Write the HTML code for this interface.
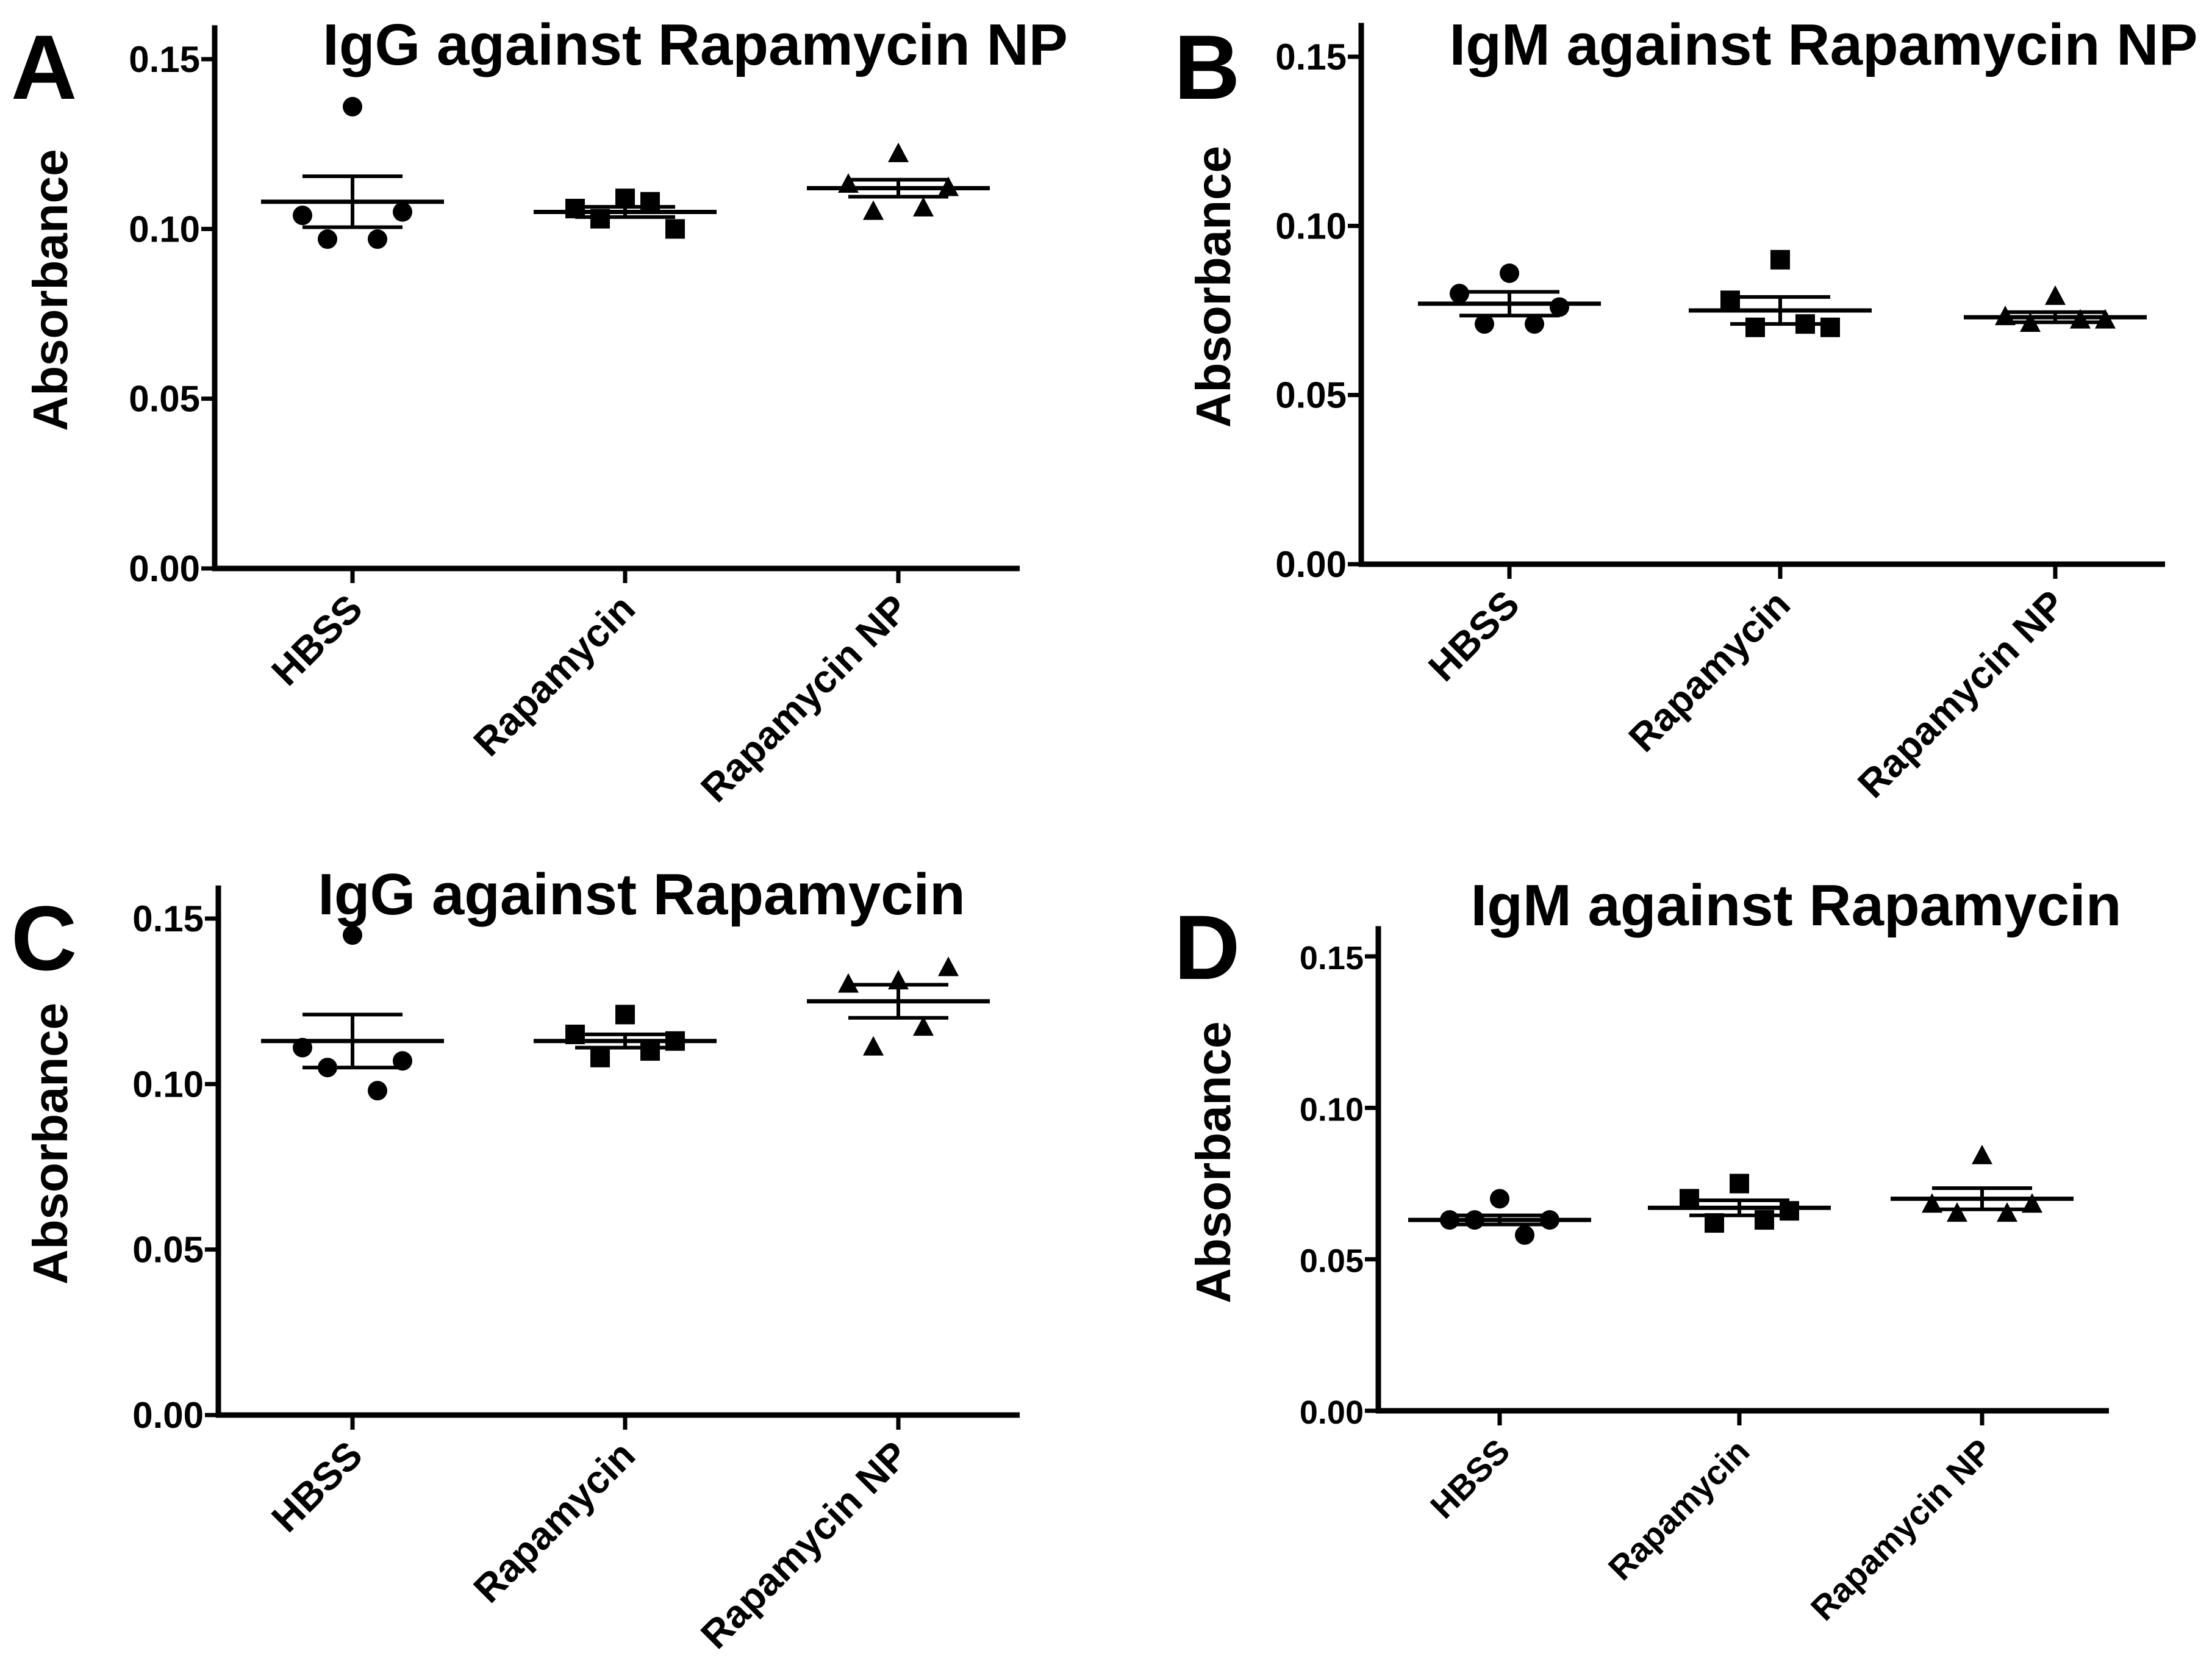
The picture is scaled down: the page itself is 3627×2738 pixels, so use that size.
<!DOCTYPE html>
<html><head><meta charset="utf-8"><style>
html,body{margin:0;padding:0;background:#fff;}
svg{display:block;font-family:"Liberation Sans",Arial,sans-serif;}
</style></head><body>
<svg id="fig" width="3627" height="2738" viewBox="0 0 3627 2738" xmlns="http://www.w3.org/2000/svg"></svg>
<script>
const categories = ["HBSS","Rapamycin","Rapamycin NP"];
const yTicks = [0.00,0.05,0.10,0.15];
const yTickLabels = ["0.00","0.05","0.10","0.15"];
// panel A
const aHBSS = [0.136,0.104,0.105,0.097,0.097];
const aRapa = [0.109,0.106,0.100,0.103,0.108];
const aNP = [0.122,0.113,0.112,0.105,0.106];
const aMeans = [0.108,0.105,0.112];
const aSems = [0.0075,0.0015,0.0025];
// panel B
const bHBSS = [0.086,0.080,0.076,0.071,0.071];
const bRapa = [0.090,0.078,0.070,0.070,0.071];
const bNP = [0.079,0.073,0.072,0.071,0.072];
const bMeans = [0.077,0.075,0.073];
const bSems = [0.0035,0.004,0.0015];
// panel C
const cHBSS = [0.145,0.111,0.107,0.105,0.098];
const cRapa = [0.121,0.115,0.113,0.108,0.110];
const cNP = [0.131,0.130,0.135,0.111,0.117];
const cMeans = [0.113,0.113,0.125];
const cSems = [0.008,0.002,0.005];
// panel D
const dHBSS = [0.070,0.063,0.063,0.063,0.058];
const dRapa = [0.075,0.070,0.066,0.062,0.063];
const dNP = [0.084,0.068,0.068,0.065,0.065];
const dMeans = [0.063,0.067,0.070];
const dSems = [0.0015,0.0025,0.0035];

const svg = document.getElementById('fig');
const NS = 'http://www.w3.org/2000/svg';
function mk(tag, attrs, parent){const e=document.createElementNS(NS,tag);for(const k in attrs)e.setAttribute(k,attrs[k]);(parent||svg).appendChild(e);return e;}

const panels = [
 {id:'a',letter:'A',title:'IgG against Rapamycin NP',ax:352,y0:932,y15:97,xEnd:1672,cats:[578,1025,1473],tx:1140,ty:106,lx:18,ly:162,series:[aHBSS,aRapa,aNP],means:aMeans,sems:aSems,fs:60,xfs:64},
 {id:'b',letter:'B',title:'IgM against Rapamycin NP',ax:2232,y0:925,y15:93,xEnd:3550,cats:[2475,2919,3370],tx:2990,ty:106,lx:1925,ly:162,series:[bHBSS,bRapa,bNP],means:bMeans,sems:bSems,fs:60,xfs:64},
 {id:'c',letter:'C',title:'IgG against Rapamycin',ax:358,y0:2320,y15:1506,xEnd:1672,cats:[578,1025,1473],tx:1052,ty:1499,lx:18,ly:1590,series:[cHBSS,cRapa,cNP],means:cMeans,sems:cSems,fs:60,xfs:64},
 {id:'d',letter:'D',title:'IgM against Rapamycin',ax:2260,y0:2313,y15:1568,xEnd:3458,cats:[2459,2852,3250],tx:2945,ty:1517,lx:1925,ly:1605,series:[dHBSS,dRapa,dNP],means:dMeans,sems:dSems,fs:54,xfs:56}
];
const jitter=[0,-1,1,-0.5,0.5];

panels.forEach(p=>{
  const g=mk('g',{});
  
  
  const y=v=>p.y0-(v/0.15)*(p.y0-p.y15);
  const top=y(0.16);
  const L=mk('text',{x:p.lx,y:p.ly,'font-size':150,'font-weight':'bold'},g);L.textContent=p.letter;
  
  
  const T=mk('text',{x:p.tx,y:p.ty,'font-size':96,'font-weight':'bold','text-anchor':'middle'},g);T.textContent=p.title;
  
  
  const ya=mk('line',{x1:p.ax,y1:top,x2:p.ax,y2:p.y0+4,stroke:'#000','stroke-width':9},g);
  
  
  const xa=mk('line',{x1:p.ax-4,y1:p.y0,x2:p.xEnd,y2:p.y0,stroke:'#000','stroke-width':9},g);
  
  
  yTicks.forEach((t,i)=>{
    mk('line',{x1:p.ax-22,y1:y(t),x2:p.ax,y2:y(t),stroke:'#000','stroke-width':7},g);
    const tl=mk('text',{x:p.ax-24,y:y(t)+21,'font-size':p.fs,'font-weight':'bold','text-anchor':'end'},g);
    tl.textContent=yTickLabels[i];
    
    
  });
  const yt=mk('text',{x:0,y:0,'font-size':80,'font-weight':'bold','text-anchor':'middle',transform:`translate(${p.lx+92},${y(0.082)}) rotate(-90)`},g);
  yt.textContent='Absorbance';
  
  
  categories.forEach((c,ci)=>{
    const cx=p.cats[ci];
    mk('line',{x1:cx,y1:p.y0,x2:cx,y2:p.y0+24,stroke:'#000','stroke-width':7},g);
    const xl=mk('text',{x:0,y:0,'font-size':p.xfs,'font-weight':'bold','text-anchor':'end',transform:`translate(${cx+20},${p.y0+70}) rotate(-45)`},g);
    xl.textContent=c;
    
    
    p.series[ci].forEach((v,k)=>{
      const px=cx+jitter[k]*82, py=y(v);
      let m;
      if(ci===0) m=mk('circle',{cx:px,cy:py,r:16,fill:'#000'},g);
      else if(ci===1) m=mk('rect',{x:px-16,y:py-16,width:32,height:32,fill:'#000'},g);
      else m=mk('polygon',{points:`${px},${py-19} ${px-17},${py+13} ${px+17},${py+13}`,fill:'#000'},g);
      
      
    });
    const mu=p.means[ci], se=p.sems[ci];
    const ml=mk('line',{x1:cx-150,y1:y(mu),x2:cx+150,y2:y(mu),stroke:'#000','stroke-width':7},g);
    
    
    const eb=mk('path',{d:`M${cx},${y(mu+se)}V${y(mu-se)}M${cx-82},${y(mu+se)}H${cx+82}M${cx-82},${y(mu-se)}H${cx+82}`,stroke:'#000','stroke-width':6,fill:'none'},g);
    
    
  });
});
</script>
</body></html>
